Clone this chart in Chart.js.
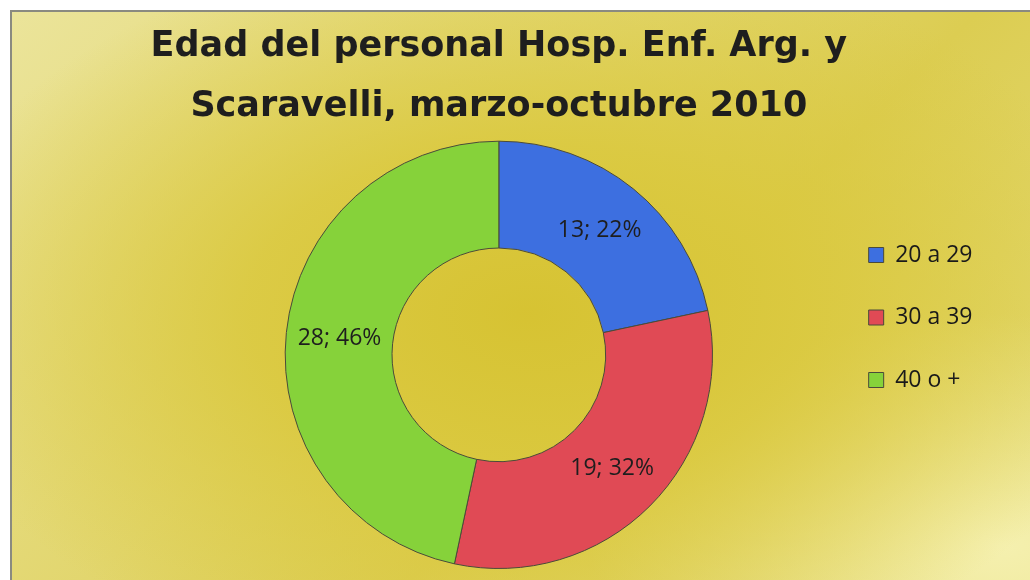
<!DOCTYPE html>
<html>
<head>
<meta charset="utf-8">
<script src="https://cdn.jsdelivr.net/npm/chart.js@4.4.1/dist/chart.umd.min.js"></script>
<style>
  html, body { margin:0; padding:0; background:#ffffff; }
  #wrap { position:relative; width:1030px; height:580px; overflow:hidden; background:#fff; }
  #bg { position:absolute; left:10px; top:10px; width:1030px; height:580px;
        border-left:2px solid #8a8a80; border-top:2px solid #8a8a80;
        background:
          radial-gradient(ellipse 60% 65% at 50% 52%, rgba(214,194,48,0.95) 0%, rgba(218,200,60,0.85) 45%, rgba(230,220,120,0.0) 100%),
          radial-gradient(ellipse 40% 40% at 96% 92%, rgba(245,240,175,1) 0%, rgba(245,240,175,0) 100%),
          linear-gradient(135deg, #ebe49a 0%, #e2d66e 40%, #dccd52 60%, #e6de7e 100%);
  }
  canvas { position:absolute; left:0; top:0; }
</style>
</head>
<body>
<div id="wrap">
  <div id="bg"></div>
  <canvas id="c" width="1030" height="580"></canvas>
</div>
<script>
const categories = ["20 a 29", "30 a 39", "40 o +"];
const values = [13, 19, 28];
const percentLabels = ["22%", "32%", "46%"];
const titleLines = ["Edad del personal Hosp. Enf. Arg. y", "Scaravelli, marzo-octubre 2010"];
const colors = ["#3d6fe0", "#e04a55", "#86d23a"];

const dataLabelPlugin = {
  id: 'dataLabelPlugin',
  afterDatasetsDraw(chart) {
    const ctx = chart.ctx;
    const meta = chart.getDatasetMeta(0);
    ctx.save();
    ctx.font = '23px "Open Sans", sans-serif';
    ctx.fillStyle = '#1e1e1e';
    ctx.textAlign = 'center';
    ctx.textBaseline = 'middle';
    meta.data.forEach((arc, i) => {
      const p = arc.tooltipPosition();
      ctx.fillText(values[i] + '; ' + percentLabels[i], p.x, p.y);
    });
    ctx.restore();
  }
};

// move the legend block slightly left, closer to the ring (as in the original)
const legendNudge = {
  id: 'legendNudge',
  afterLayout(chart) {
    const lg = chart.legend;
    if (lg) { lg.left -= 21.5; lg.right -= 21.5; }
  }
};

new Chart(document.getElementById('c'), {
  type: 'doughnut',
  data: {
    labels: categories,
    datasets: [{
      data: values,
      backgroundColor: colors,
      borderColor: '#4a4a3a',
      borderWidth: 1
    }]
  },
  options: {
    responsive: false,
    animation: false,
    cutout: '50%',
    layout: { padding: { left: 147, right: 26, bottom: 11, top: 0 } },
    plugins: {
      tooltip: { enabled: false },
      title: {
        display: true,
        fullSize: false,
        text: titleLines,
        color: '#1e1e1e',
        font: { family: '"DejaVu Sans", sans-serif', size: 35, weight: 'bold', lineHeight: 1.71 },
        padding: { top: 17, bottom: 4 }
      },
      legend: {
        display: true,
        position: 'right',
        align: 'center',
        title: { display: true, text: ' ', padding: 27, font: { size: 10 } },
        labels: {
          color: '#1a1a1a',
          font: { family: '"Open Sans", sans-serif', size: 23 },
          boxWidth: 15,
          boxHeight: 15,
          padding: 39.5
        }
      }
    }
  },
  plugins: [dataLabelPlugin, legendNudge]
});
</script>
</body>
</html>
